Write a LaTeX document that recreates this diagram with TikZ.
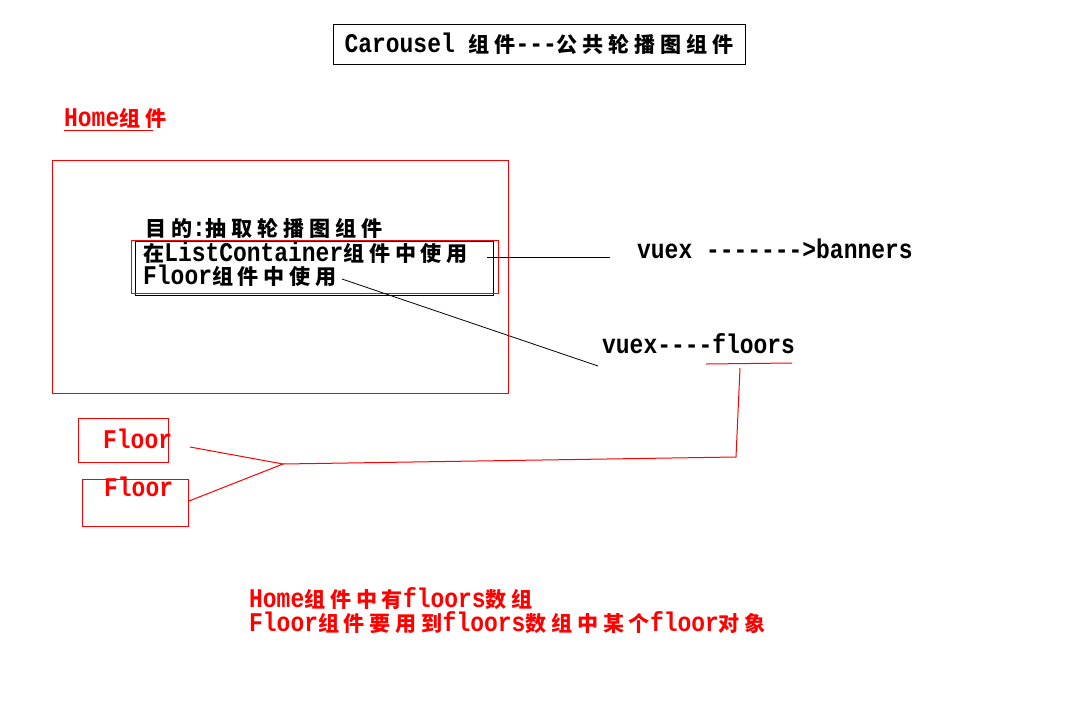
\documentclass[tikz,border=0pt]{standalone}
\usepackage{fontspec}
\setmainfont{Liberation Mono}[FakeStretch=0.85,Ligatures=TeXOff]
\newfontfamily\cjk{Noto Sans CJK SC}[Scale=0.78,LetterSpace=23]
\newcommand\zh[1]{{\cjk #1}}
\usetikzlibrary{positioning}
\tikzset{lbl/.style={anchor=base west,inner sep=0pt}}
\tikzset{redbox/.style={draw=red,line width=1pt,inner sep=0pt,anchor=north west}}
\tikzset{redline/.style={red,line width=1pt}}

\begin{document}
\begin{tikzpicture}[x=1pt,y=-1pt,font=\fontsize{27}{30}\selectfont\bfseries]
        \useasboundingbox[fill=white] (0,0) rectangle (1085,710);
        % title
        \node[draw,line width=0.8pt,minimum width=412pt,minimum height=40pt,inner sep=0pt] (title) at (539,44) {Carousel \zh{组件}---\zh{公共轮播图组件}};
        % Home
        \node[lbl,red] (home) at (64,126) {Home\zh{组件}};
        \coordinate (homeul) at (64,130);
        \coordinate (homeur) at (153,130);
        \draw[redline] (homeul) -- (homeur);
        \node[redbox,minimum width=456pt,minimum height=233pt] (homebox) at (52,160) {};
        \node[lbl] (goal) at (145,236) {\zh{目的}:\zh{抽取轮播图组件}};
        \node[lbl] (uselist) at (143,261) {\zh{在}ListContainer\zh{组件中使用}};
        \node[lbl] (usefloor) at (143,284) {Floor\zh{组件中使用}};
        \node[draw,line width=0.8pt,inner sep=0pt,anchor=north west,minimum width=358pt,minimum height=54pt] (blackframe) at (135,241) {};
        \node[redbox,minimum width=367pt,minimum height=53pt] (redframe) at (131,240) {};
        % vuex
        \node[lbl] (banners) at (637,258) {vuex ------->banners};
        \node[lbl] (floors) at (602,353) {vuex----floors};
        \coordinate (listend) at (487,257);
        \coordinate (bannersin) at (610,257);
        \coordinate (floorend) at (342,279);
        \coordinate (floorsin) at (598,366);
        \draw[line width=0.8pt] (listend) -- (bannersin);
        \draw[line width=0.8pt] (floorend) -- (floorsin);
        % Floor
        \node[redbox,minimum width=90pt,minimum height=44pt] (floorA) at (78,418) {};
        \node[redbox,minimum width=106pt,minimum height=47pt] (floorB) at (82,479) {};
        \node[lbl,red] (floorAtxt) at (103,448) {Floor};
        \node[lbl,red] (floorBtxt) at (104,496) {Floor};
        \coordinate (ulleft) at (706,364);
        \coordinate (ulright) at (792,363);
        \coordinate (ultap) at (740,368);
        \coordinate (corner) at (736,457);
        \coordinate (hub) at (283,464);
        \coordinate (toA) at (190,447);
        \coordinate (toB) at (189,501);
        \draw[redline] (ulleft) -- (ulright);
        \draw[redline] (ultap) -- (corner) -- (hub);
        \draw[redline] (toA) -- (hub) -- (toB);
        % notes
        \node[lbl,red] (note1) at (249,607) {Home\zh{组件中有}floors\zh{数组}};
        \node[lbl,red] (note2) at (249,631) {Floor\zh{组件要用到}floors\zh{数组中某个}floor\zh{对象}};
\end{tikzpicture}
\end{document}
